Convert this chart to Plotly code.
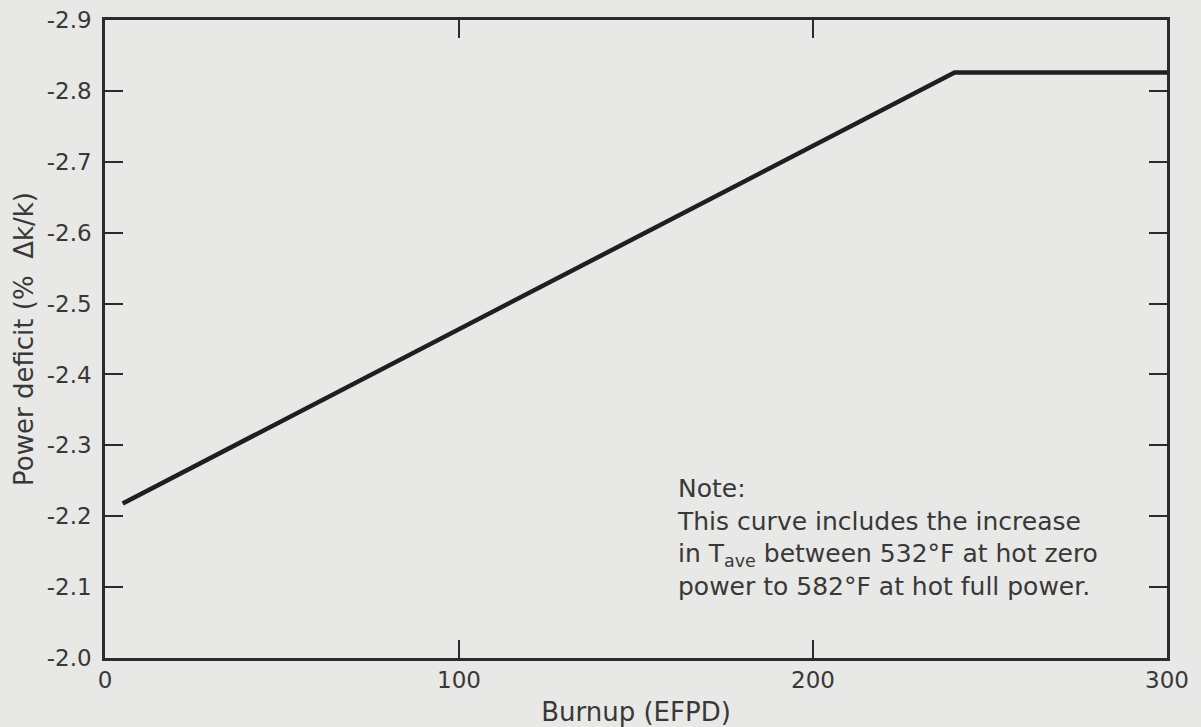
import plotly.graph_objects as go

# Power deficit versus core burnup
burnup_efpd = [5, 240, 300]
power_deficit = [-2.218, -2.826, -2.826]

x_tick_vals = [0, 100, 200, 300]
x_tick_text = ["0", "100", "200", "300"]
y_tick_vals = [-2.0, -2.1, -2.2, -2.3, -2.4, -2.5, -2.6, -2.7, -2.8, -2.9]
y_tick_text = ["-2.0", "-2.1", "-2.2", "-2.3", "-2.4", "-2.5", "-2.6", "-2.7", "-2.8", "-2.9"]

note_lines = [
    "Note:",
    "This curve includes the increase",
    "in T<sub>ave</sub> between 532°F at hot zero",
    "power to 582°F at hot full power.",
]

ink = "#2b2b2b"
text_ink = "#383838"
paper = "#e8e8e6"
font_family = "DejaVu Sans, Liberation Sans, Arial, sans-serif"

fig = go.Figure()
fig.add_trace(
    go.Scatter(
        x=burnup_efpd,
        y=power_deficit,
        mode="lines",
        line=dict(color="#1f1f1f", width=4.5),
        showlegend=False,
        hoverinfo="skip",
    )
)

fig.add_annotation(
    x=161,
    y=-2.263,
    xref="x",
    yref="y",
    xanchor="left",
    yanchor="top",
    align="left",
    showarrow=False,
    text="<br>".join(note_lines),
    font=dict(family=font_family, size=25, color=text_ink),
)

axis_common = dict(
    showline=True,
    linecolor=ink,
    linewidth=2.5,
    mirror="ticks",
    ticks="inside",
    ticklen=18,
    tickwidth=2,
    tickcolor=ink,
    showgrid=False,
    zeroline=False,
    automargin=False,
    tickfont=dict(family=font_family, size=23, color=text_ink),
)

fig.update_xaxes(
    range=[0, 300],
    tickmode="array",
    tickvals=x_tick_vals,
    ticktext=x_tick_text,
    ticklabelstandoff=0,
    title=dict(
        text="Burnup (EFPD)",
        font=dict(family=font_family, size=26, color=text_ink),
        standoff=14,
    ),
    **axis_common,
)

fig.update_yaxes(
    range=[-2.0, -2.9],
    tickmode="array",
    tickvals=y_tick_vals,
    ticktext=y_tick_text,
    ticklabelstandoff=6,
    title=dict(
        text="Power deficit (%  Δk/k)",
        font=dict(family=font_family, size=26, color=text_ink),
        standoff=6,
    ),
    **axis_common,
)

fig.update_layout(
    width=1201,
    height=727,
    margin=dict(l=105, r=34, t=20, b=69),
    paper_bgcolor=paper,
    plot_bgcolor=paper,
)

fig.write_html("out.html")
